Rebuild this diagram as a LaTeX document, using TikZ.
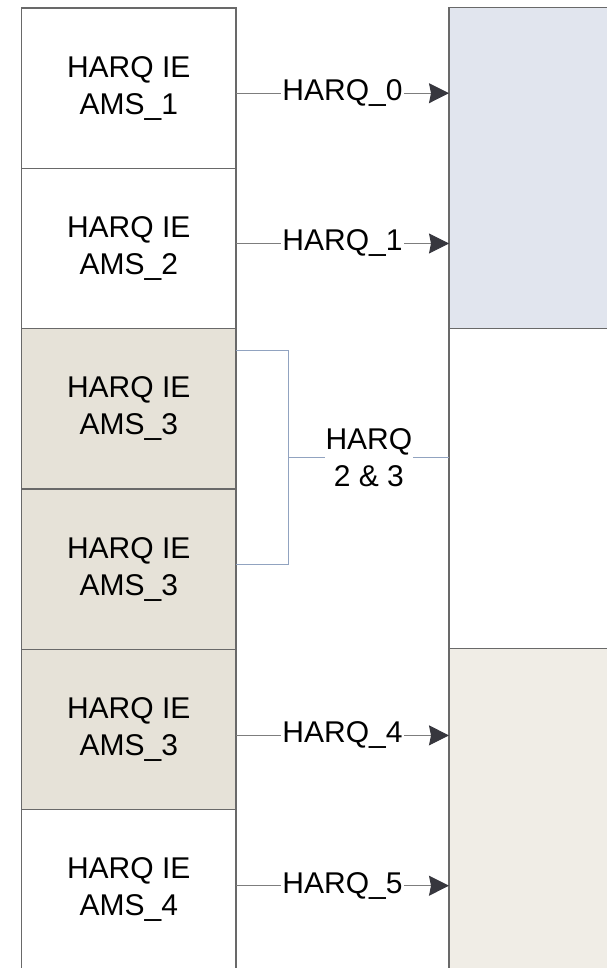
\documentclass[tikz,border=0pt]{standalone}
\usepackage{fontspec}
\setmainfont{Liberation Sans}
\usetikzlibrary{calc,positioning,arrows.meta}
\definecolor{boxline}{RGB}{105,105,105}
\definecolor{arrowline}{RGB}{125,125,125}
\definecolor{arrowtip}{RGB}{55,55,62}
\definecolor{bracketline}{RGB}{145,163,192}
\definecolor{iebeige}{RGB}{230,226,216}
\definecolor{colblue}{RGB}{225,229,238}
\definecolor{colbeige}{RGB}{240,237,230}
\tikzset{
    iebox/.style={draw=boxline,line width=1.2pt,minimum width=214.5pt,minimum height=160.3pt,
                  inner sep=0pt,outer sep=0pt,align=center,font=\fontsize{30}{37}\selectfont},
    colbox/.style={draw=boxline,line width=1.2pt,minimum width=200pt,inner sep=0pt,outer sep=0pt},
    harqarrow/.style={draw=arrowline,line width=1pt,
                      -{Stealth[length=20pt,width=20pt,inset=2pt,color=arrowtip]}},
    harqlabel/.style={fill=white,inner xsep=1.5pt,inner ysep=0pt,align=center,
                      font=\fontsize{30}{37}\selectfont},
    bracket/.style={draw=bracketline,line width=1pt}
}
\begin{document}
\begin{tikzpicture}[x=1pt,y=-1pt]
    \useasboundingbox (0,0) rectangle (607,968);
    \clip (0,0) rectangle (607,968);
        % right column
        \node[colbox,fill=colblue,minimum height=320.5pt] (blue) at (549,168) {};
        \node[colbox,fill=white,minimum height=320.5pt] (white) at (549,488.6) {};
        \node[colbox,fill=colbeige,minimum height=322pt] (beige) at (549,809.8) {};
        % left column
        \node[iebox,fill=white] (ie1) at (128.75,88.2) {HARQ IE\\AMS\_1};
        \node[iebox,fill=white,below=0pt of ie1] (ie2) {HARQ IE\\AMS\_2};
        \node[iebox,fill=iebeige,below=0pt of ie2] (ie3) {HARQ IE\\AMS\_3};
        \node[iebox,fill=iebeige,below=0pt of ie3] (ie4) {HARQ IE\\AMS\_3};
        \node[iebox,fill=iebeige,below=0pt of ie4] (ie5) {HARQ IE\\AMS\_3};
        \node[iebox,fill=white,below=0pt of ie5] (ie6) {HARQ IE\\AMS\_4};

        \draw[harqarrow] ([yshift=-5pt]ie1.east) -- node[harqlabel] {HARQ\_0} ([yshift=-5pt]ie1.east -| blue.west);
        \draw[harqarrow] ([yshift=5pt]ie2.east) -- node[harqlabel] {HARQ\_1} ([yshift=5pt]ie2.east -| blue.west);
        \draw[harqarrow] ([yshift=-6pt]ie5.east) -- node[harqlabel] {HARQ\_4} ([yshift=-6pt]ie5.east -| beige.west);
        \draw[harqarrow] ([yshift=4pt]ie6.east) -- node[harqlabel] {HARQ\_5} ([yshift=4pt]ie6.east -| beige.west);

        % bracket for AMS_3
        \coordinate (bt) at ([xshift=52.7pt,yshift=58pt]ie3.east);
        \coordinate (bb) at ([xshift=52.7pt,yshift=5pt]ie4.east);
        \coordinate (bm) at ($(bt)!0.5!(bb)$);
        \draw[bracket] ([yshift=58pt]ie3.east) -- (bt) -- (bb) -- ([yshift=5pt]ie4.east);
        \draw[bracket] (bm) -- node[harqlabel,inner xsep=1pt] {HARQ\\2 \& 3} (bm -| white.west);
\end{tikzpicture}
\end{document}
